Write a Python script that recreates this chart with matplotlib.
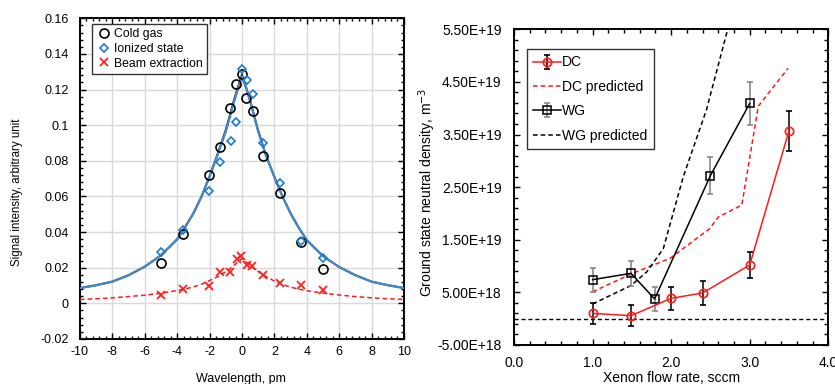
import numpy as np
import matplotlib
matplotlib.use("Agg")
import matplotlib.pyplot as plt
from matplotlib.lines import Line2D
from matplotlib.ticker import FixedLocator, FuncFormatter, MultipleLocator

plt.rcParams['font.family'] = ['Liberation Sans', 'DejaVu Sans']
plt.rcParams['axes.unicode_minus'] = False

# --- left panel: spectral line profiles ---
wl_pts = [-5.0, -3.66, -2.04, -1.38, -0.72, -0.39, 0.0, 0.27, 0.68, 1.30, 2.33, 3.64, 4.98]
cold_gas = [0.0226, 0.0390, 0.0719, 0.0876, 0.1098, 0.1233, 0.1287, 0.1151, 0.1080, 0.0825, 0.0617, 0.0344, 0.0195]

wl_ion = [-5.0, -3.66, -2.04, -1.36, -0.70, -0.37, 0.0, 0.31, 0.68, 1.30, 2.33, 3.66, 4.98]
ionized = [0.0286, 0.0414, 0.0631, 0.0795, 0.0913, 0.1020, 0.1316, 0.1254, 0.1175, 0.0898, 0.0674, 0.0348, 0.0256]

wl_beam = [-5.0, -3.66, -2.04, -1.38, -0.72, -0.33, -0.06, 0.29, 0.64, 1.30, 2.35, 3.64, 4.98]
beam = [0.0049, 0.0082, 0.0099, 0.0178, 0.0174, 0.0251, 0.0266, 0.0215, 0.0210, 0.0159, 0.0116, 0.0105, 0.0075]

# fitted curves
fit_x = [-10, -9, -8, -7, -6, -5, -4, -3.5, -3, -2.5, -2, -1.5, -1, -0.75, -0.5, -0.25, 0,
         0.25, 0.5, 0.75, 1, 1.5, 2, 2.5, 3, 3.5, 4, 5, 6, 7, 8, 9, 10]
fit_cold = [0.0086, 0.0102, 0.0122, 0.0158, 0.0206, 0.0270, 0.0360, 0.0430, 0.0505, 0.0600, 0.0715,
            0.0840, 0.0975, 0.1055, 0.1140, 0.1215, 0.1285,
            0.1215, 0.1140, 0.1055, 0.0970, 0.0825, 0.0710, 0.0600, 0.0505, 0.0425, 0.0355,
            0.0265, 0.0204, 0.0158, 0.0122, 0.0102, 0.0086]
fit_ion = [0.0086, 0.0102, 0.0122, 0.0158, 0.0206, 0.0270, 0.0360, 0.0430, 0.0505, 0.0598, 0.0712,
           0.0835, 0.0965, 0.1045, 0.1130, 0.1205, 0.1275,
           0.1210, 0.1135, 0.1050, 0.0965, 0.0825, 0.0710, 0.0600, 0.0505, 0.0425, 0.0355,
           0.0265, 0.0204, 0.0158, 0.0122, 0.0102, 0.0086]
fit_beam = [0.0022, 0.0026, 0.0031, 0.0038, 0.0046, 0.0057, 0.0072, 0.0081, 0.0092, 0.0108, 0.0128,
            0.0150, 0.0178, 0.0195, 0.0212, 0.0232, 0.0252,
            0.0232, 0.0212, 0.0195, 0.0178, 0.0150, 0.0125, 0.0106, 0.0091, 0.0080, 0.0071,
            0.0058, 0.0047, 0.0038, 0.0031, 0.0026, 0.0022]

# --- right panel: neutral density vs flow rate (units of 1e18 m^-3) ---
dc_flow = [1.0, 1.49, 2.0, 2.40, 3.0, 3.50]
dc_dens = [1.0, 0.57, 3.87, 4.88, 10.2, 35.7]
dc_err = [2.05, 2.05, 2.2, 2.3, 2.5, 3.8]

wg_flow = [1.0, 1.49, 1.79, 2.50, 3.0]
wg_dens = [7.41, 8.62, 3.74, 27.2, 40.9]
wg_err = [2.3, 2.4, 2.2, 3.5, 4.15]

dc_pred_flow = [1.0, 1.49, 1.99, 2.49, 2.60, 2.90, 3.11, 3.49]
dc_pred_dens = [5.1, 8.5, 11.5, 17.1, 19.3, 21.6, 40.4, 47.6]

wg_pred_flow = [1.0, 1.49, 1.69, 1.90, 2.155, 2.45, 2.72, 2.78]
wg_pred_dens = [2.8, 6.3, 8.9, 13.3, 27.0, 39.7, 55.0, 58.5]

fig = plt.figure(figsize=(8.35, 3.84), dpi=100)

# ================= left =================
ax1 = fig.add_axes([0.0958, 0.1172, 0.388, 0.8351])
ax1.plot(fit_x, fit_cold, color='black', lw=1.3, zorder=3)
ax1.plot(fit_x, fit_ion, color='#4a86c0', lw=1.7, zorder=4)
ax1.plot(fit_x, fit_beam, color='#ff1a1a', lw=1.1, ls=(0, (3, 2)), zorder=4)
ax1.plot(wl_pts, cold_gas, 'o', mfc='none', mec='black', ms=6.5, mew=1.2, zorder=5, label='Cold gas')
ax1.plot(wl_ion, ionized, 'D', mfc='none', mec='#1f7acb', ms=4.5, mew=1.2, zorder=6, label='Ionized state')
ax1.plot(wl_beam, beam, 'x', color='#ff2020', ms=5.5, mew=1.3, zorder=6, label='Beam extraction')

ax1.set_xlim(-10, 10)
ax1.set_ylim(-0.02, 0.16)
ax1.set_xticks(np.arange(-10, 11, 2))
ax1.set_yticks(np.arange(-0.02, 0.161, 0.02))
ax1.xaxis.set_minor_locator(MultipleLocator(0.4))
ax1.yaxis.set_minor_locator(MultipleLocator(0.004))
ax1.yaxis.set_major_formatter(FuncFormatter(lambda v, p: f"{round(v, 4):g}"))
ax1.xaxis.set_major_formatter(FuncFormatter(lambda v, p: f"{v:g}"))
ax1.grid(True, which='major', color='#d9d9d9', lw=1.0, zorder=0)
ax1.set_axisbelow(True)
ax1.tick_params(which='both', direction='in', top=True, right=True, labelsize=9, width=1.0)
ax1.tick_params(which='major', length=4)
ax1.tick_params(which='minor', length=2.5)
ax1.tick_params(axis='x', pad=5)
ax1.tick_params(axis='y', pad=8)
for s in ax1.spines.values():
    s.set_linewidth(1.4)
leg1 = ax1.legend(loc='upper left', bbox_to_anchor=(0.037, 0.982), borderaxespad=0,
                  fontsize=8.8, handlelength=1.3, handletextpad=0.15, labelspacing=0.22,
                  borderpad=0.35, fancybox=False, framealpha=1, edgecolor='#333333')
leg1.get_frame().set_linewidth(1.0)
fig.text(0.0205, 0.5, 'Signal intensity, arbitrary unit', rotation=90, ha='center', va='center', fontsize=8.3)
fig.text(0.289, 1 - 373 / 384, 'Wavelength, pm', ha='center', va='top', fontsize=9)

# ================= right =================
ax2 = fig.add_axes([0.6156, 0.1016, 0.3763, 0.8221])
sc = 1e18
ax2.axhline(0, color='black', lw=1.0, ls=(0, (3, 2)), zorder=2)
ax2.plot(dc_pred_flow, np.array(dc_pred_dens) * sc, color='#ff1a1a', lw=1.1, ls=(0, (3, 2)), zorder=3)
ax2.plot(wg_pred_flow, np.array(wg_pred_dens) * sc, color='black', lw=1.1, ls=(0, (3, 2)), zorder=3)
ax2.errorbar(wg_flow, np.array(wg_dens) * sc, yerr=np.array(wg_err) * sc, color='black', ecolor='#808080',
             elinewidth=1.1, capsize=2, capthick=1.0, marker='s', mfc='none', mec='black', ms=6, mew=1.1,
             lw=1.1, zorder=4, label='WG')
ax2.errorbar(dc_flow, np.array(dc_dens) * sc, yerr=np.array(dc_err) * sc, color='#ff1a1a', ecolor='black',
             elinewidth=1.1, capsize=2, capthick=1.0, marker='o', mfc='none', mec='#ff1a1a', ms=6, mew=1.2,
             lw=1.1, zorder=5, label='DC')

ax2.set_xlim(0, 4.0)
ax2.set_ylim(-5e18, 5.5e19)
ax2.set_xticks(np.arange(0, 4.01, 1.0))
ax2.xaxis.set_minor_locator(MultipleLocator(0.2))
ax2.yaxis.set_major_locator(FixedLocator(np.arange(-5e18, 5.6e19, 1e19)))
ax2.yaxis.set_minor_locator(FixedLocator(np.arange(-5e18, 5.6e19, 2e18)))
ax2.xaxis.set_major_formatter(FuncFormatter(lambda v, p: f"{v:.1f}"))
ax2.yaxis.set_major_formatter(FuncFormatter(lambda v, p: f"{v:.2E}"))
ax2.tick_params(which='both', direction='in', top=True, right=True, labelsize=10, width=1.0)
ax2.tick_params(which='major', length=4.5)
ax2.tick_params(which='minor', length=3)
ax2.tick_params(axis='x', pad=8)
ax2.tick_params(axis='y', pad=9)
for s in ax2.spines.values():
    s.set_linewidth(1.4)

h, l = ax2.get_legend_handles_labels()
dc_pred_h = Line2D([], [], color='#ff1a1a', lw=1.1, ls=(0, (3, 2)))
wg_pred_h = Line2D([], [], color='black', lw=1.1, ls=(0, (3, 2)))
handles = [h[l.index('DC')], dc_pred_h, h[l.index('WG')], wg_pred_h]
labels = ['DC', 'DC predicted', 'WG', 'WG predicted']
leg2 = ax2.legend(handles, labels, loc='upper left', bbox_to_anchor=(0.041, 0.937), borderaxespad=0,
                  fontsize=10, handlelength=2.0, handletextpad=0.1, labelspacing=0.75,
                  borderpad=0.45, fancybox=False, framealpha=1, edgecolor='#333333')
leg2.get_frame().set_linewidth(1.0)
fig.text(0.512, 0.5, 'Ground state neutral density, m$^{-3}$', rotation=90, ha='center', va='center', fontsize=10)
fig.text(0.804, 1 - 371 / 384, 'Xenon flow rate, sccm', ha='center', va='top', fontsize=10)

fig.savefig('out.png', dpi=100)
